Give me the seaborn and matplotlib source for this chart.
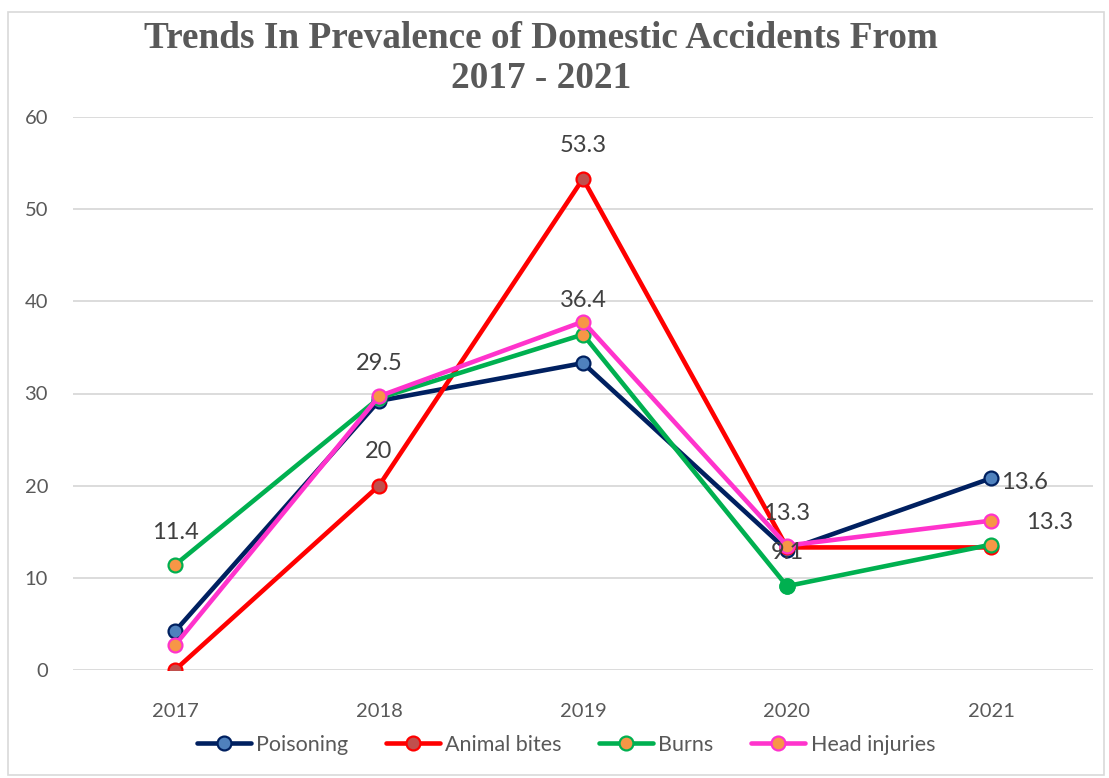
import matplotlib
matplotlib.use("Agg")
import matplotlib.pyplot as plt
import seaborn as sns
import pandas as pd
from matplotlib.patches import Rectangle

years = ["2017", "2018", "2019", "2020", "2021"]
poisoning = [4.2, 29.2, 33.3, 13.0, 20.8]
animal_bites = [0.0, 20.0, 53.3, 13.3, 13.3]
burns = [11.4, 29.5, 36.4, 9.1, 13.6]
head_injuries = [2.7, 29.7, 37.8, 13.5, 16.2]

series_names = ["Poisoning", "Animal bites", "Burns", "Head injuries"]
series_values = [poisoning, animal_bites, burns, head_injuries]

# labels shown on the chart (text, series index, point index, offset px)
label_texts = ["11.4", "29.5", "36.4", "9.1", "13.6", "20", "53.3", "13.3", "13.3"]
label_series = [2, 2, 2, 2, 2, 1, 1, 1, 1]
label_points = [0, 1, 2, 3, 4, 1, 2, 3, 4]
label_offsets = [(0, 32), (0, 35), (0, 34), (0, 34), (34, 62), (0, 34), (0, 33), (0, 34), (59, 25)]

line_colors = ["#002060", "#FF0000", "#00B050", "#FF33CC"]
face_colors = ["#4F81BD", "#C0504D", "#F79646", "#F79646"]

sns.set_theme(style="white")
plt.rcParams["font.family"] = ["Lato", "DejaVu Sans"]

fig = plt.figure(figsize=(11.09, 7.78), dpi=100)
ax = fig.add_axes([73 / 1109, 1 - 670 / 778, (1093 - 73) / 1109, (670 - 117) / 778])

frames = []
for name, vals in zip(series_names, series_values):
    frames.append(pd.DataFrame({"Year": years, "Value": vals, "Series": name}))
df = pd.concat(frames, ignore_index=True)

for i, name in enumerate(series_names):
    sub = df[df["Series"] == name]
    sns.lineplot(data=sub, x="Year", y="Value", ax=ax, sort=False,
                 color=line_colors[i], linewidth=3.3, marker="o", markersize=10,
                 markerfacecolor=face_colors[i], markeredgecolor=line_colors[i],
                 markeredgewidth=1.6, label=name, zorder=3 + i)

# Burns 2020 marker drawn fully green in the reference
sub = df[(df["Series"] == "Burns") & (df["Year"] == "2020")]
sns.scatterplot(data=sub, x="Year", y="Value", ax=ax, color="#00B050", s=110,
                edgecolor="#00B050", linewidth=1.5, zorder=6, legend=False)

for t, si, pi, off in zip(label_texts, label_series, label_points, label_offsets):
    ax.annotate(t, xy=(pi, series_values[si][pi]), xytext=off,
                textcoords="offset pixels", ha="center", va="center",
                fontsize=17, color="#404040", zorder=10)

ax.set_xlim(-0.5, 4.5)
ax.set_ylim(0, 60)
ax.set_yticks([0, 10, 20, 30, 40, 50, 60])
ax.grid(axis="y", color="#D9D9D9", linewidth=1.3)
ax.grid(axis="x", visible=False)
for s in ax.spines.values():
    s.set_visible(False)
ax.tick_params(axis="y", length=0, pad=18, labelsize=14.5, labelcolor="#595959")
ax.tick_params(axis="x", length=0, pad=24, labelsize=14.5, labelcolor="#595959")
ax.set_xlabel("")
ax.set_ylabel("")

handles, labels = ax.get_legend_handles_labels()
if ax.get_legend():
    ax.get_legend().remove()
leg = fig.legend(handles, labels, loc="center", bbox_to_anchor=(566 / 1109, 1 - 745 / 778),
                 ncol=4, frameon=False, fontsize=15.5, handlelength=2.5, handletextpad=0.25,
                 columnspacing=1.75)
for txt in leg.get_texts():
    txt.set_color("#595959")

fig.text(541 / 1109, 1 - 38 / 778, "Trends In Prevalence of Domestic Accidents From",
         ha="center", va="center", fontsize=26.8, fontweight="bold",
         family=["Liberation Serif", "DejaVu Serif"], color="#595959")
fig.text(541 / 1109, 1 - 79 / 778, "2017 - 2021",
         ha="center", va="center", fontsize=26.8, fontweight="bold",
         family=["Liberation Serif", "DejaVu Serif"], color="#595959")

fig.patches.append(Rectangle((8 / 1109, 3 / 778), 1096 / 1109, 763 / 778,
                             transform=fig.transFigure, fill=False,
                             edgecolor="#D9D9D9", linewidth=1.2))

fig.savefig("out.png", dpi=100)
